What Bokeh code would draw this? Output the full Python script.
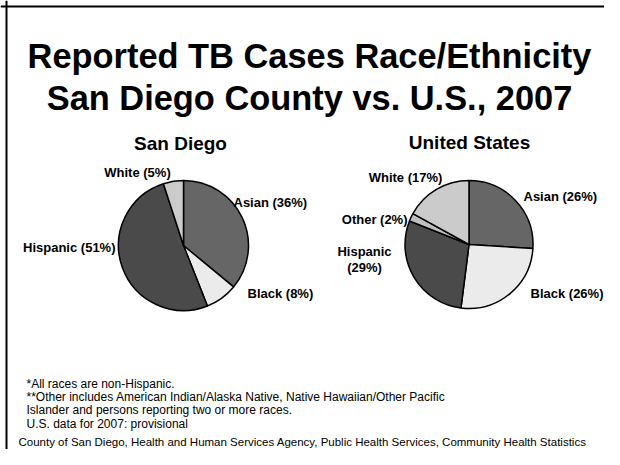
import math
from bokeh.plotting import figure
from bokeh.models import Range1d, Label, Span, ColumnDataSource
from bokeh.embed import file_html
from bokeh.resources import INLINE

# ---- data ----
sd_names = ["Asian", "Black", "Hispanic", "White"]
sd_pct = [36, 8, 51, 5]
us_names = ["Asian", "Black", "Hispanic", "Other", "White"]
us_pct = [26, 26, 29, 2, 17]

title_lines = ["Reported TB Cases Race/Ethnicity", "San Diego County vs. U.S., 2007"]
footnotes = [
    "*All races are non-Hispanic.",
    "**Other includes American Indian/Alaska Native, Native Hawaiian/Other Pacific",
    "Islander and persons reporting two or more races.",
    "U.S. data for 2007: provisional",
]
source_note = "County of San Diego, Health and Human Services Agency, Public Health Services, Community Health Statistics"

# ---- styles ----
colors = {"Asian": "#666666", "Black": "#ebebeb", "Hispanic": "#4a4a4a",
          "White": "#cbcbcb", "Other": "#bfbfbf"}
FONT = "Liberation Sans"
W, H = 604, 449

p = figure(width=W, height=H, output_backend="svg", toolbar_location=None,
           x_range=Range1d(0, W), y_range=Range1d(-H, 0),
           min_border=0, outline_line_color=None)
p.axis.visible = False
p.grid.visible = False
p.background_fill_color = "white"
p.border_fill_color = "white"

# frame
p.add_layout(Span(location=6, dimension="height", line_color="black", line_width=2))
p.add_layout(Span(location=-6, dimension="width", line_color="black", line_width=2))

def lab(x, y, text, align="left", baseline="middle", size="13px", bold=True):
    p.add_layout(Label(x=x, y=-y, text=text, text_align=align, text_baseline=baseline,
                       text_font=FONT, text_font_style="bold" if bold else "normal",
                       text_font_size=size, text_color="black"))

# titles
for txt, yb in zip(title_lines, [55, 97]):
    lab(309, yb, txt, align="center", baseline="alphabetic", size="34.4px")

def pie(names, pct, cx, cy, r):
    total = float(sum(pct))
    starts, ends, cum = [], [], 0.0
    for v in pct:
        starts.append(math.pi / 2 - cum / total * 2 * math.pi)
        cum += v
        ends.append(math.pi / 2 - cum / total * 2 * math.pi)
    src = ColumnDataSource(dict(start=starts, end=ends, color=[colors[n] for n in names]))
    p.wedge(x=cx, y=-cy, radius=r, start_angle="start", end_angle="end", direction="clock",
            fill_color="color", line_color="black", line_width=1.5, source=src)

pie(sd_names, sd_pct, 183, 245, 65)
pie(us_names, us_pct, 468.5, 244, 64)

# sub titles
lab(180, 143, "San Diego", align="center", size="19px")
lab(469, 142, "United States", align="center", size="19px")

# slice labels: (x, y, align)
sd_lab_pos = {"Asian": (233, 202, "left"), "Black": (247, 293, "left"),
              "Hispanic": (115, 247, "right"), "White": (137, 172, "center")}
us_lab_pos = {"Asian": (523, 196, "left"), "Black": (530, 293, "left"),
              "Hispanic": (364, 259, "center"), "Other": (407, 219, "right"),
              "White": (405, 177, "center")}

def labels(names, pct, pos, multiline=()):
    for n, v in zip(names, pct):
        x, y, al = pos[n]
        if n in multiline:
            for i, t in enumerate([n, f"({v}%)"]):
                lab(x, y - 8 + 16 * i, t, align=al)
        else:
            lab(x, y, f"{n} ({v}%)", align=al)

labels(sd_names, sd_pct, sd_lab_pos)
labels(us_names, us_pct, us_lab_pos, multiline=("Hispanic",))

# footnotes
for i, t in enumerate(footnotes):
    lab(26, 386 + 13.4 * i - 3, t, baseline="alphabetic", size="12px", bold=False)
lab(302, 447, source_note, align="center", baseline="bottom", size="11.5px", bold=False)

open("out.html", "w").write(file_html(p, INLINE))
